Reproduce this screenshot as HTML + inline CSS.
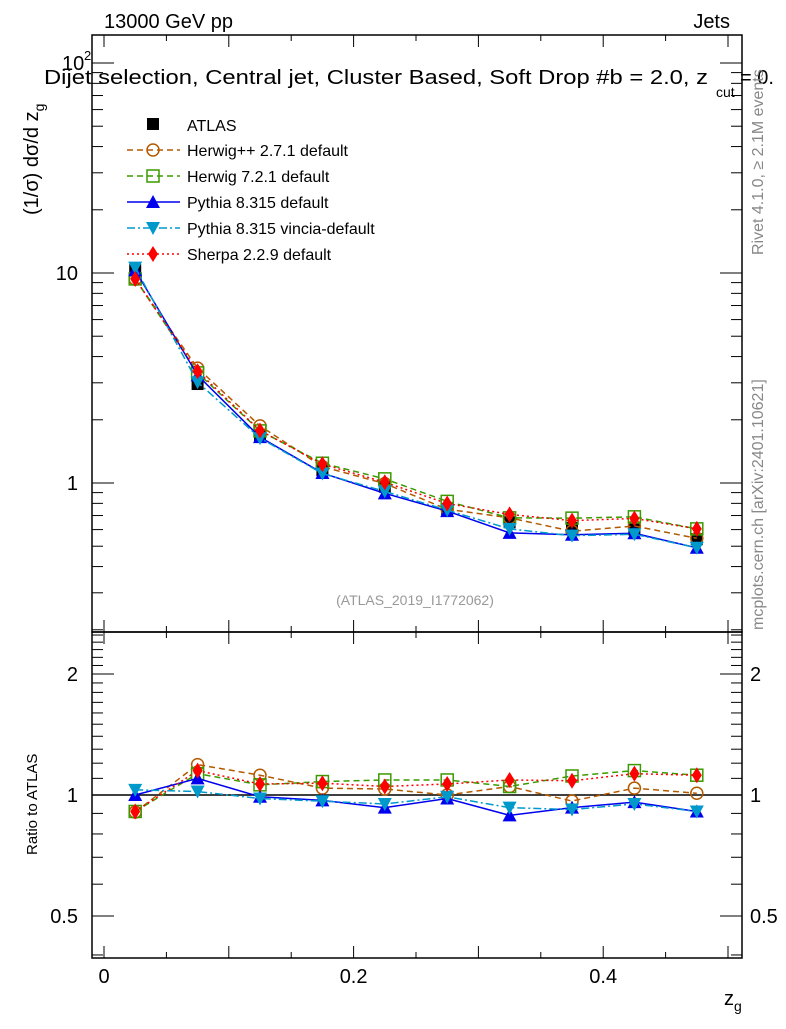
<!DOCTYPE html>
<html><head><meta charset="utf-8"><style>
body{margin:0;background:#fff;width:786px;height:1024px;overflow:hidden}
svg text{font-family:"Liberation Sans",sans-serif}
</style></head><body>
<svg id="c" width="786" height="1024" xmlns="http://www.w3.org/2000/svg"></svg>
<script>
const xCenters=[0.025,0.075,0.125,0.175,0.225,0.275,0.325,0.375,0.425,0.475];
const atlas=[10.3,2.96,1.67,1.15,0.96,0.75,0.65,0.61,0.60,0.54];
const rHerwigpp=[0.907,1.19,1.12,1.04,1.035,1.0,1.05,0.966,1.04,1.01];
const rHerwig7=[0.91,1.13,1.06,1.08,1.09,1.09,1.05,1.115,1.15,1.12];
const rPythia=[1.0,1.10,0.99,0.97,0.93,0.98,0.89,0.93,0.96,0.91];
const rVincia=[1.03,1.02,0.98,0.965,0.95,0.99,0.93,0.92,0.95,0.91];
const rSherpa=[0.91,1.15,1.065,1.07,1.05,1.065,1.09,1.085,1.13,1.12];
const xTicks=[0,0.2,0.4];
const xTickLabels=["0","0.2","0.4"];
const ratioTicks=[0.5,1,2];
const ratioTickLabels=["0.5","1","2"];

const svg=document.getElementById('c');
const NS='http://www.w3.org/2000/svg';
function el(t,a,p){const e=document.createElementNS(NS,t);for(const k in a)e.setAttribute(k,a[k]);(p||svg).appendChild(e);return e;}
const L=92,R=742,T=35,M=632,B=958;
const X=v=>104+v*1248;
const Ym=v=>483-Math.log10(v)*210;
const Yr=v=>795-Math.log10(v)*402;

let f=el('rect',{x:L,y:T,width:R-L,height:M-T,fill:'none',stroke:'#000','stroke-width':1.5});

f=el('rect',{x:L,y:M,width:R-L,height:B-M,fill:'none',stroke:'#000','stroke-width':1.5});

for(let k=0;k<=10;k++){const v=k*0.05;const big=k%2==0;const len=big?12:6;const x=X(v);if(x>R)continue;
 [[M,-1],[T,1],[B,-1],[M,1]].forEach(([y0,d])=>el('line',{x1:x,x2:x,y1:y0,y2:y0+d*len,stroke:'#000'}));}
xTicks.forEach((v,i)=>{const t=el('text',{x:X(v),y:983,'font-size':20,'text-anchor':'middle'});t.textContent=xTickLabels[i];
 });
for(let d=-1;d<=2;d++)for(let m=1;m<10;m++){const v=m*Math.pow(10,d);const y=Ym(v);if(y<T||y>M)continue;const len=m==1?22:11;
 el('line',{x1:L,x2:L+len,y1:y,y2:y,stroke:'#000'});el('line',{x1:R,x2:R-len,y1:y,y2:y,stroke:'#000'});}
let t=el('text',{x:78,y:490,'font-size':20,'text-anchor':'end'});t.textContent='1';
t=el('text',{x:78,y:280,'font-size':20,'text-anchor':'end'});t.textContent='10';
t=el('text',{x:62,y:70,'font-size':20});t.textContent='10';
t=el('text',{x:84,y:60,'font-size':13});t.textContent='2';
for(let v=0.4;v<2.6;v+=0.1){const y=Yr(v);if(y<M||y>B)continue;const big=[0.5,1,2].some(q=>Math.abs(q-v)<1e-6);const len=big?22:11;
 el('line',{x1:L,x2:L+len,y1:y,y2:y,stroke:'#000'});el('line',{x1:R,x2:R-len,y1:y,y2:y,stroke:'#000'});}
ratioTicks.forEach((v,i)=>{[78,750].forEach(x=>{const tt=el('text',{x:x,y:Yr(v)+7,'font-size':20,'text-anchor':x<100?'end':'start'});tt.textContent=ratioTickLabels[i];
 });});
el('line',{x1:L,x2:R,y1:Yr(1),y2:Yr(1),stroke:'#000','stroke-width':1.5});

function marker(type,x,y,c){
 if(type=='sq')return el('rect',{x:x-6,y:y-6,width:12,height:12,fill:'#000'});
 if(type=='circ')return el('circle',{cx:x,cy:y,r:6,fill:'none',stroke:c,'stroke-width':1.5});
 if(type=='osq')return el('rect',{x:x-6,y:y-6,width:12,height:12,fill:'none',stroke:c,'stroke-width':1.5});
 if(type=='tri')return el('polygon',{points:`${x},${y-7} ${x-7},${y+6} ${x+7},${y+6}`,fill:c});
 if(type=='itri')return el('polygon',{points:`${x},${y+7} ${x-7},${y-6} ${x+7},${y-6}`,fill:c});
 if(type=='dia')return el('polygon',{points:`${x},${y-8} ${x-5},${y} ${x},${y+8} ${x+5},${y}`,fill:c});
}
const series=[
 {n:'herwigpp',r:rHerwigpp,c:'#b35900',m:'circ',dash:'6,4',label:'Herwig++ 2.7.1 default'},
 {n:'herwig7',r:rHerwig7,c:'#3a9a00',m:'osq',dash:'6,4',label:'Herwig 7.2.1 default'},
 {n:'pythia',r:rPythia,c:'#0000ee',m:'tri',dash:'',label:'Pythia 8.315 default'},
 {n:'vincia',r:rVincia,c:'#0099cc',m:'itri',dash:'8,3,2,3',label:'Pythia 8.315 vincia-default'},
 {n:'sherpa',r:rSherpa,c:'#ff0000',m:'dia',dash:'2,3',label:'Sherpa 2.2.9 default'}];
xCenters.forEach((x,i)=>{const e=marker('sq',X(x),Ym(atlas[i]));});
series.forEach(s=>{
 const pm=xCenters.map((x,i)=>X(x)+','+Ym(atlas[i]*s.r[i])).join(' ');
 const pr=xCenters.map((x,i)=>X(x)+','+Yr(s.r[i])).join(' ');
 let l=el('polyline',{points:pm,fill:'none',stroke:s.c,'stroke-width':1.5,'stroke-dasharray':s.dash});
 
 l=el('polyline',{points:pr,fill:'none',stroke:s.c,'stroke-width':1.5,'stroke-dasharray':s.dash});
 
 xCenters.forEach((x,i)=>{let e=marker(s.m,X(x),Ym(atlas[i]*s.r[i]),s.c);
  e=marker(s.m,X(x),Yr(s.r[i]),s.c);});
});
let ly=124;
let g=marker('sq',153,ly);
t=el('text',{x:187,y:ly+7,'font-size':16});t.textContent='ATLAS';
series.forEach((s,i)=>{const y=150+26*i;
 el('line',{x1:127,x2:180,y1:y,y2:y,stroke:s.c,'stroke-width':1.5,'stroke-dasharray':s.dash});
 marker(s.m,153,y,s.c);
 const tt=el('text',{x:187,y:y+6,'font-size':16});tt.textContent=s.label;});
function txt(s,a,name){const e=el('text',a);e.textContent=s;return e;}
txt('13000 GeV pp',{x:104,y:28,'font-size':20},'title-energy');
txt('Jets',{x:730,y:28,'font-size':20,'text-anchor':'end'},'title-process');
txt('Dijet selection, Central jet, Cluster Based, Soft Drop #b = 2.0, z',{x:44,y:84,'font-size':20,textLength:664,lengthAdjust:'spacingAndGlyphs'},'subtitle');
txt('cut',{x:716,y:97,'font-size':14},'subtitle-sub');
txt('= 0.',{x:740,y:84,'font-size':20},'subtitle-end');
txt('(ATLAS_2019_I1772062)',{x:415,y:605,'font-size':14,fill:'#999','text-anchor':'middle'},'analysis-id');
txt('Rivet 4.1.0, ≥ 2.1M events',{x:0,y:0,'font-size':16,fill:'#888',transform:'translate(763,255) rotate(-90)'},'rivet-label');
txt('mcplots.cern.ch [arXiv:2401.10621]',{x:0,y:0,'font-size':16,fill:'#888',transform:'translate(763,630) rotate(-90)'},'mcplots-label');
const yl=txt('',{x:0,y:0,'font-size':20,transform:'translate(38,215) rotate(-90)'},'y-axis-title');
yl.innerHTML='(1/σ) dσ/d z<tspan font-size="14" dy="6">g</tspan>';
txt('Ratio to ATLAS',{x:0,y:0,'font-size':15,transform:'translate(37,855) rotate(-90)'},'ratio-axis-title');
const xl=txt('',{x:724,y:1005,'font-size':20},'x-axis-title');xl.innerHTML='z<tspan font-size="14" dy="6">g</tspan>';
</script>
</body></html>
